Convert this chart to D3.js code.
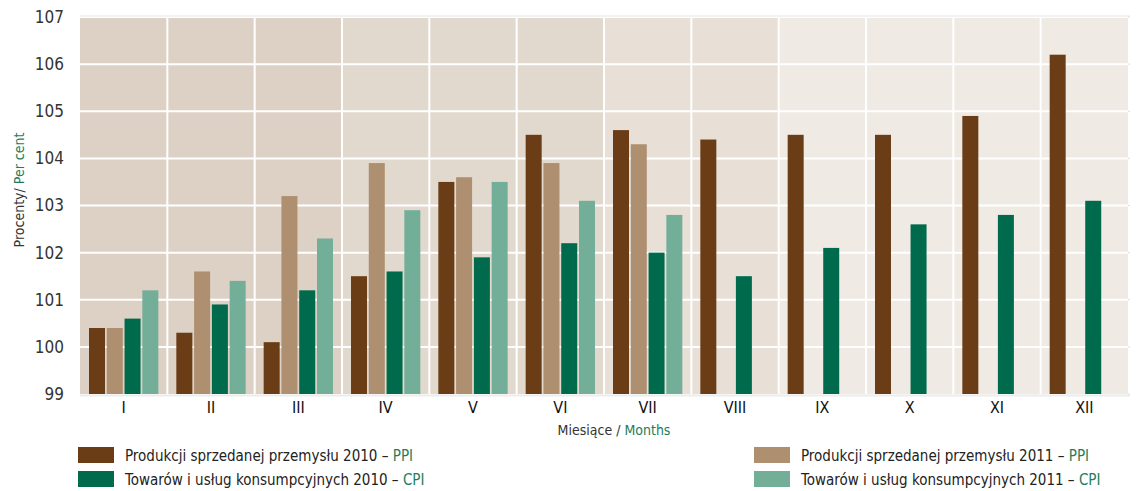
<!DOCTYPE html>
<html>
<head>
<meta charset="utf-8">
<script src="https://cdn.jsdelivr.net/npm/d3@7/dist/d3.min.js"></script>
<style>
  body { margin: 0; background: #fff; }
  text { font-family: "Liberation Sans Narrow", "DejaVu Sans Condensed", sans-serif; }
</style>
</head>
<body>
<script>
// months and series
var months = ["I","II","III","IV","V","VI","VII","VIII","IX","X","XI","XII"];
var ppi2010 = [100.4,100.3,100.1,101.5,103.5,104.5,104.6,104.4,104.5,104.5,104.9,106.2];
var ppi2011 = [100.4,101.6,103.2,103.9,103.6,103.9,104.3,null,null,null,null,null];
var cpi2010 = [100.6,100.9,101.2,101.6,101.9,102.2,102.0,101.5,102.1,102.6,102.8,103.1];
var cpi2011 = [101.2,101.4,102.3,102.9,103.5,103.1,102.8,null,null,null,null,null];
var yTicks = [99,100,101,102,103,104,105,106,107];
var bandColors = ["#ddd0c4","#ddd0c4","#ddd0c4","#e2d9ce","#e2d9ce","#e2d9ce",
                  "#e8e0d7","#e8e0d7","#efeae4","#efeae4","#efeae4","#efeae4"];

var series = [
  {key: "ppi2010", values: ppi2010, color: "#6a3d17", label: "Produkcji sprzedanej przemysłu 2010 – ", tag: "PPI"},
  {key: "ppi2011", values: ppi2011, color: "#ae8f70", label: "Produkcji sprzedanej przemysłu 2011 – ", tag: "PPI"},
  {key: "cpi2010", values: cpi2010, color: "#006b4c", label: "Towarów i usług konsumpcyjnych 2010 – ", tag: "CPI"},
  {key: "cpi2011", values: cpi2011, color: "#73ae99", label: "Towarów i usług konsumpcyjnych 2011 – ", tag: "CPI"}
];

var W = 1143, H = 491;
var mLeft = 80, mRight = 1128, mTop = 17, mBottom = 394;
var green = "#1d7d5c";

var svg = d3.select("body").append("svg")
    .attr("width", W)
    .attr("height", H);

var x = d3.scaleBand().domain(months).range([mLeft, mRight]).padding(0);
var x1 = d3.scaleBand().domain(series.map(function (s) { return s.key; }))
    .range([9, x.bandwidth() - 9]).paddingInner(0.1);
var y = d3.scaleLinear().domain([99, 107]).range([mBottom, mTop]);

// background bands
svg.append("g").selectAll("rect")
  .data(months)
  .enter().append("rect")
  .attr("x", function (d) { return x(d); })
  .attr("y", mTop)
  .attr("width", x.bandwidth())
  .attr("height", mBottom - mTop)
  .attr("fill", function (d, i) { return bandColors[i]; });

// grid
svg.append("g").selectAll("line")
  .data(yTicks.slice(1))
  .enter().append("line")
  .attr("x1", mLeft).attr("x2", mRight)
  .attr("y1", function (d) { return y(d); })
  .attr("y2", function (d) { return y(d); })
  .attr("stroke", "#fff").attr("stroke-width", 2);
svg.append("g").selectAll("line")
  .data(months.slice(1))
  .enter().append("line")
  .attr("x1", function (d) { return x(d); })
  .attr("x2", function (d) { return x(d); })
  .attr("y1", mTop).attr("y2", mBottom)
  .attr("stroke", "#fff").attr("stroke-width", 2);

// frame lines
svg.append("line").attr("x1", mLeft).attr("x2", mRight + 2).attr("y1", mTop - 1).attr("y2", mTop - 1)
  .attr("stroke", "#e6e6e6").attr("stroke-width", 1);
svg.append("line").attr("x1", mLeft).attr("x2", mRight + 2).attr("y1", mBottom + 1.5).attr("y2", mBottom + 1.5)
  .attr("stroke", "#ececec").attr("stroke-width", 2);

// bars
var groups = svg.append("g").selectAll("g")
  .data(months)
  .enter().append("g")
  .attr("transform", function (d) { return "translate(" + x(d) + ",0)"; });

groups.selectAll("rect")
  .data(function (d, i) {
    return series.filter(function (s) { return s.values[i] != null; })
      .map(function (s) { return {key: s.key, v: s.values[i], color: s.color}; });
  })
  .enter().append("rect")
  .attr("x", function (d) { return x1(d.key); })
  .attr("width", x1.bandwidth())
  .attr("y", function (d) { return y(d.v); })
  .attr("height", function (d) { return mBottom - y(d.v); })
  .attr("fill", function (d) { return d.color; });

// y axis
var yAxis = svg.append("g")
  .attr("transform", "translate(" + (mLeft - 2) + ",0)")
  .call(d3.axisLeft(y).tickValues(yTicks).tickSize(0).tickPadding(14).tickFormat(d3.format("d")));
yAxis.select(".domain").remove();
yAxis.selectAll("text").attr("font-size", 17).attr("fill", "#333");

// small ticks on right edge
svg.append("g").selectAll("line")
  .data(yTicks)
  .enter().append("line")
  .attr("x1", mRight).attr("x2", mRight + 2)
  .attr("y1", function (d) { return y(d); })
  .attr("y2", function (d) { return y(d); })
  .attr("stroke", "#ddd");

// x axis
var xAxis = svg.append("g")
  .attr("transform", "translate(0," + mBottom + ")")
  .call(d3.axisBottom(x).tickSize(0).tickPadding(8));
xAxis.select(".domain").remove();
xAxis.selectAll("text").attr("font-size", 16).attr("fill", "#111");

// axis titles
var yt = svg.append("text")
  .attr("transform", "translate(24,190) rotate(-90)")
  .attr("text-anchor", "middle")
  .attr("font-size", 14)
  .attr("fill", "#333");
yt.append("tspan").text("Procenty/ ");
yt.append("tspan").attr("fill", green).text("Per cent");

var xt = svg.append("text")
  .attr("x", 614).attr("y", 435)
  .attr("text-anchor", "middle")
  .attr("font-size", 14)
  .attr("fill", "#333");
xt.append("tspan").text("Miesiące / ");
xt.append("tspan").attr("fill", green).text("Months");

// legend
var legendPos = [
  {s: series[0], x: 78, y: 447},
  {s: series[2], x: 78, y: 471},
  {s: series[1], x: 754, y: 447},
  {s: series[3], x: 754, y: 471}
];
var lg = svg.append("g").selectAll("g")
  .data(legendPos)
  .enter().append("g")
  .attr("transform", function (d) { return "translate(" + d.x + "," + d.y + ")"; });
lg.append("rect")
  .attr("width", 36).attr("height", 16)
  .attr("fill", function (d) { return d.s.color; });
var lt = lg.append("text")
  .attr("x", 47).attr("y", 14)
  .attr("font-size", 15)
  .attr("fill", "#222");
lt.append("tspan").text(function (d) { return d.s.label; });
lt.append("tspan").attr("fill", green).text(function (d) { return d.s.tag; });
</script>
</body>
</html>
